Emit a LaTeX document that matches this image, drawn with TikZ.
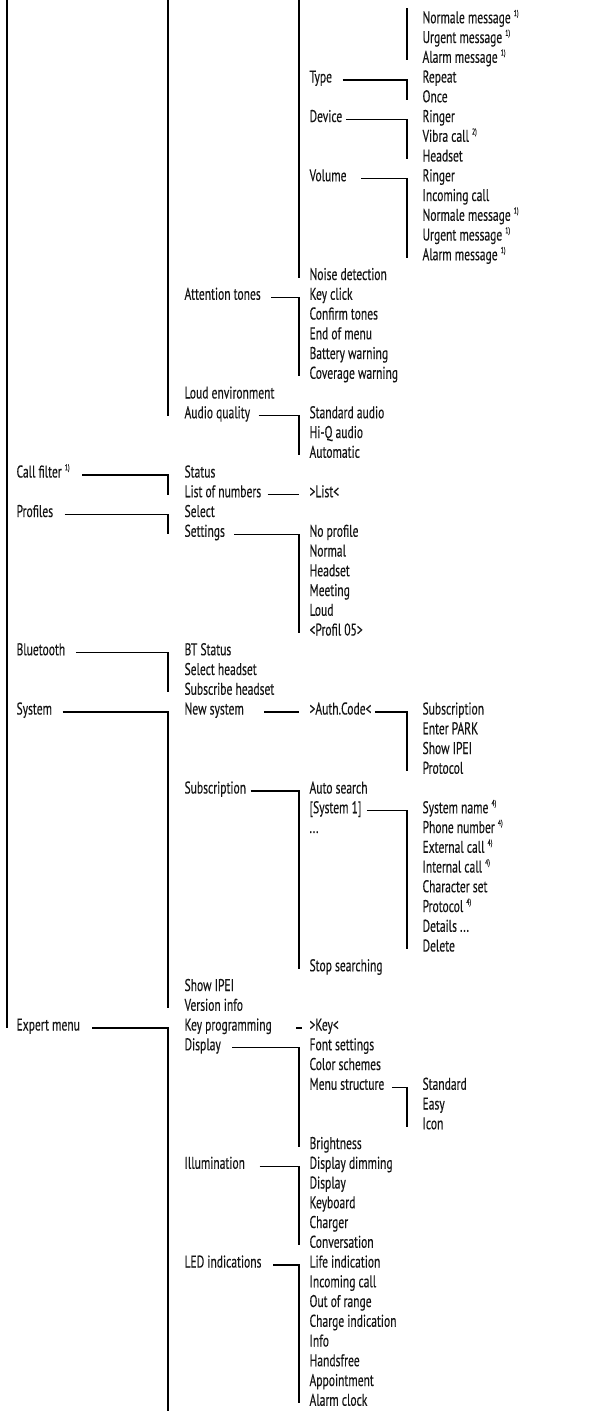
\documentclass[tikz,border=0pt]{standalone}
\usepackage{fontspec}
\setmainfont[FakeStretch=0.68, FakeBold=0.3]{PT Sans}
\newcommand\fnote[1]{\raisebox{0.85ex}{\fontsize{8.5}{8.5}\selectfont #1}}
\begin{document}
\begin{tikzpicture}[x=1pt, y=-1pt, line width=1.1pt,
  item/.style={anchor=mid west, inner sep=0pt, text=black!92,
    font=\fontsize{17}{19}\selectfont}]
  \useasboundingbox (0,0) rectangle (614,1411);
  \path (7,0) coordinate (v0)
    (168,0) coordinate (v1)
    (299,0) coordinate (v2)
    (407,8) coordinate (v3)
    (168,1411) coordinate (bot);
  % level 1
  \foreach \r/\t in {24/{Call filter \fnote{1)}}, 26/Profiles, 33/Bluetooth,
      36/System, 52/Expert menu}
    \node[item] (c1-\r) at (16,{1+19.75*\r}) {\t};
  % level 2
  \foreach \r/\t in {15/Attention tones, 20/Loud environment, 21/Audio quality,
      24/Status, 25/List of numbers, 26/Select, 27/Settings, 33/BT Status,
      34/Select headset, 35/Subscribe headset, 36/New system, 40/Subscription,
      50/Show IPEI, 51/Version info, 52/Key programming, 53/Display,
      59/Illumination, 64/LED indications}
    \node[item] (c2-\r) at (184,{1+19.75*\r}) {\t};
  % level 3
  \foreach \r/\t in {4/Type, 6/Device, 9/Volume, 14/Noise detection,
      15/Key click, 16/Confirm tones, 17/End of menu, 18/Battery warning,
      19/Coverage warning, 21/Standard audio, 22/Hi-Q audio, 23/Automatic,
      25/{>List<}, 27/No profile, 28/Normal, 29/Headset, 30/Meeting, 31/Loud,
      32/{<Profil 05>}, 36/{>Auth.Code<}, 40/Auto search, 41/{[System 1]},
      42/{...}, 49/Stop searching, 52/{>Key<}, 53/Font settings,
      54/Color schemes, 55/Menu structure, 58/Brightness, 59/Display dimming,
      60/Display, 61/Keyboard, 62/Charger, 63/Conversation,
      64/Life indication, 65/Incoming call, 66/Out of range,
      67/Charge indication, 68/Info, 69/Handsfree, 70/Appointment,
      71/Alarm clock}
    \node[item] (c3-\r) at (309,{1+19.75*\r}) {\t};
  % level 4
  \foreach \r/\t in {1/{Normale message \fnote{1)}}, 2/{Urgent message \fnote{1)}},
      3/{Alarm message \fnote{1)}}, 4/Repeat, 5/Once, 6/Ringer,
      7/{Vibra call \fnote{2)}}, 8/Headset, 9/Ringer, 10/Incoming call,
      11/{Normale message \fnote{1)}}, 12/{Urgent message \fnote{1)}},
      13/{Alarm message \fnote{1)}}, 36/Subscription, 37/Enter PARK,
      38/Show IPEI, 39/Protocol, 41/{System name \fnote{4)}},
      42/{Phone number \fnote{4)}}, 43/{External call \fnote{4)}},
      44/{Internal call \fnote{4)}}, 45/Character set,
      46/{Protocol \fnote{4)}}, 47/{Details ...}, 48/Delete,
      55/Standard, 56/Easy, 57/Icon}
    \node[item] (c4-\r) at (422,{1+19.75*\r}) {\t};
  % lines coming in from above
  \draw (v0) -- (c1-52.mid west -| v0);
  \draw (v1) -- (c2-21.mid west -| v1);
  \draw (v2) -- (c3-14.mid west -| v2);
  \draw (v3) -- (c4-3.mid west -| v3);
  % brackets
  \foreach \p/\c/\v/\g in {c1-24/c2-25/v1/12, c1-26/c2-27/v1/11,
      c1-33/c2-35/v1/10, c1-36/c2-51/v1/10,
      c2-15/c3-19/v2/10, c2-21/c3-23/v2/8, c2-25/c3-25/v2/6,
      c2-27/c3-32/v2/9, c2-36/c3-36/v2/20, c2-40/c3-49/v2/4,
      c2-53/c3-58/v2/11, c2-59/c3-63/v2/14, c2-64/c3-71/v2/11,
      c3-4/c4-5/v3/10, c3-6/c4-8/v3/3, c3-9/c4-13/v3/14,
      c3-36/c4-39/v3/3, c3-41/c4-48/v3/5, c3-55/c4-57/v3/7}
    \draw ([xshift=\g]\p.mid east) -| (\c.mid west -| \v);
  \draw ([xshift=12]c1-52.mid east) -| (bot);
  \draw (c3-52.mid west) ++(-13,0) -- ++(6,0);
\end{tikzpicture}
\end{document}
